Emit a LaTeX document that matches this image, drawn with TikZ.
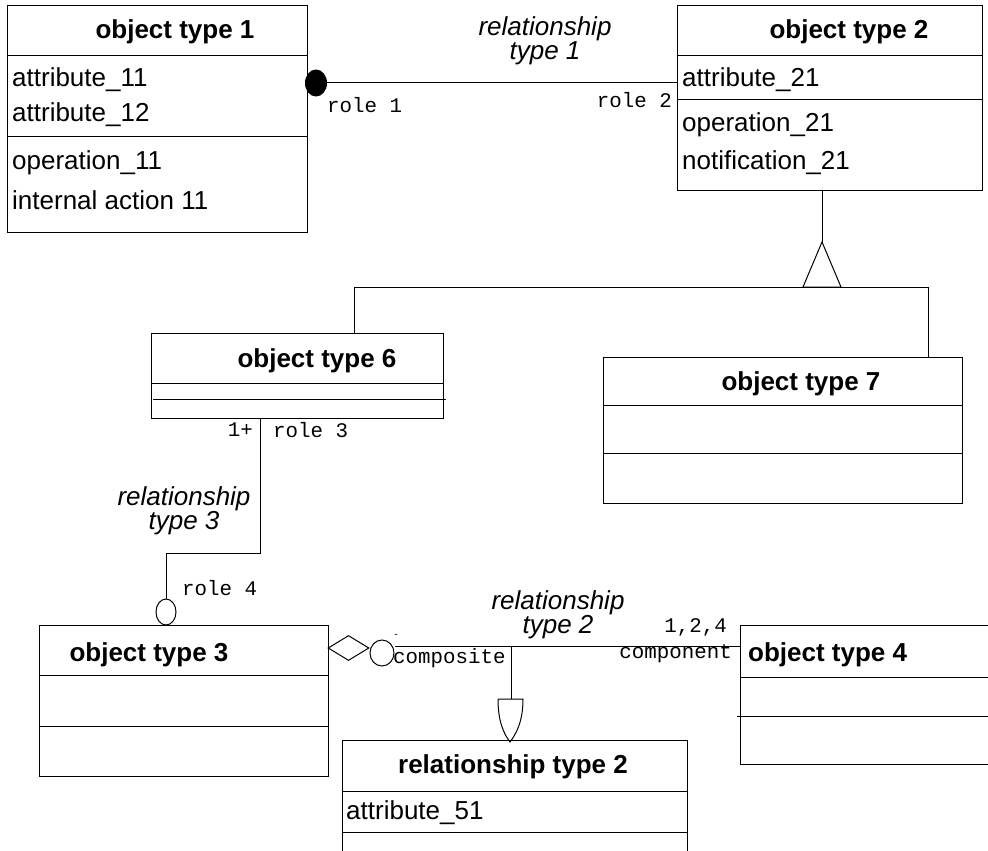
\documentclass[tikz,border=0pt]{standalone}
\usepackage{fontspec}
\setmainfont{Liberation Sans}
\newfontfamily\monof{Liberation Mono}
\usetikzlibrary{shapes.geometric}
\tikzset{
  box/.style={draw, line width=1pt, inner sep=0pt, anchor=north west},
  divider/.style={line width=1pt},
  conn/.style={line width=1pt},
  title/.style={font=\fontsize{26}{26}\selectfont\bfseries, inner sep=0pt, yshift=-2pt},
  attr/.style={font=\fontsize{26}{26}\selectfont, anchor=west, inner sep=0pt, yshift=-3pt},
  rolelab/.style={font=\monof\fontsize{20.8}{20.8}\selectfont, inner sep=0pt},
  rellab/.style={font=\fontsize{26}{24}\selectfont\itshape, align=center, inner sep=0pt, yshift=-1pt},
  endoval/.style={ellipse, draw, line width=1pt, inner sep=0pt, fill=white}
}
\begin{document}
\begin{tikzpicture}[x=1pt,y=-1pt]
\clip (0,0) rectangle (988,851);
\fill[white] (0,0) rectangle (988,851);

% ---- object type 1
\node[box, minimum width=300pt, minimum height=227pt] (ot1) at (7,5) {};
\draw[divider] (7,56) -- (307,56);
\draw[divider] (7,136) -- (307,136);
\node[title] (ot1t) at (175,30) {object type 1};
\node[attr] (a11) at (12,77) {attribute\_11};
\node[attr] (a12) at (12,112) {attribute\_12};
\node[attr] (o11) at (12,160) {operation\_11};
\node[attr] (i11) at (12,197) {internal action 11};

% ---- object type 2
\node[box, minimum width=305pt, minimum height=185pt] (ot2) at (677,5) {};
\draw[divider] (677,56) -- (982,56);
\draw[divider] (677,99) -- (982,99);
\node[title] (ot2t) at (849,30) {object type 2};
\node[attr] (a21) at (682,77) {attribute\_21};
\node[attr] (o21) at (682,122) {operation\_21};
\node[attr] (n21) at (682,160) {notification\_21};

% ---- relationship type 1
\node[ellipse, fill=black, inner sep=0pt, minimum width=22pt, minimum height=27pt] (r1dot) at (316,83) {};
\draw[conn] (r1dot.east) -- (ot2.west |- r1dot.east);
\node[rellab] (r1lab) at (545,40) {relationship\\type 1};
\node[rolelab, anchor=west] (role1) at (327,105) {role 1};
\node[rolelab, anchor=east] (role2) at (672,100) {role 2};

% ---- generalisation of object type 2
\coordinate (apex) at (822,242);
\coordinate (genl) at (354,287);
\coordinate (genr) at (928,287);
\draw[conn] (apex |- ot2.south) -- (apex);
\draw[conn] (apex) -- (803,287) -- (841,287) -- cycle;
\draw[conn] (genl) -- (genr);

% ---- object type 6
\node[box, minimum width=292pt, minimum height=85pt] (ot6) at (151,333) {};
\draw[divider] (151,383) -- (443,383);
\draw[divider] (153,399) -- (446,399);
\node[title] (ot6t) at (317,359) {object type 6};
\draw[conn] (genl) -- (genl |- ot6.north);

% ---- object type 7
\node[box, minimum width=359pt, minimum height=146pt] (ot7) at (603,357) {};
\draw[divider] (603,405) -- (962,405);
\draw[divider] (603,453) -- (962,453);
\node[title] (ot7t) at (801,382) {object type 7};
\draw[conn] (genr) -- (genr |- ot7.north);

% ---- object type 3
\node[box, minimum width=289pt, minimum height=151pt] (ot3) at (39,625) {};
\draw[divider] (39,675) -- (328,675);
\draw[divider] (39,726) -- (328,726);
\node[title] (ot3t) at (149,653) {object type 3};

% ---- relationship type 3
\node[endoval, minimum width=20pt, minimum height=26pt] (r3oval) at (166,612) {};
\coordinate (r3top) at (260,418);
\coordinate (r3bend) at (260,553);
\draw[conn] (r3top) -- (r3bend) -- (r3oval.north |- r3bend) -- (r3oval.north);
\node[rolelab, anchor=east] (mult3) at (253,430) {1+};
\node[rolelab, anchor=west] (role3) at (273,430) {role 3};
\node[rolelab, anchor=west] (role4) at (182,588) {role 4};
\node[rellab] (r3lab) at (184,510) {relationship\\type 3};

% ---- object type 4 (runs past the right edge)
\node[box, minimum width=270pt, minimum height=139pt] (ot4) at (740,625) {};
\draw[divider] (740,677) -- (1010,677);
\draw[divider] (737,716) -- (1010,716);
\node[title, anchor=west] (ot4t) at (748,653) {object type 4};

% ---- relationship type 2 (aggregation)
\node[diamond, draw, line width=1pt, inner sep=0pt, minimum width=41pt, minimum height=25pt] (agg) at (348.5,648) {};
\node[endoval, minimum width=24pt, minimum height=26pt] (r2oval) at (382,653) {};
\coordinate (r2start) at (395,646);
\draw[conn] (r2start) -- (ot4.west |- r2start);
\node[rolelab, font=\monof\fontsize{10}{10}\selectfont] (r2tick) at (396,636) {-};
\node[rolelab, anchor=west] (compo) at (393,658) {composite};
\node[rolelab, anchor=east] (compn) at (732,654) {component};
\node[rolelab, anchor=east] (mult2) at (727,627) {1,2,4};
\node[rellab] (r2lab) at (558,614) {relationship\\type 2};

% ---- relationship type 2 as an object
\node[box, minimum width=345pt, minimum height=140pt] (rt2) at (342,740) {};
\draw[divider] (342,791) -- (687,791);
\draw[divider] (342,832) -- (687,832);
\node[title] (rt2t) at (513,765) {relationship type 2};
\node[attr] (a51) at (346,810) {attribute\_51};

% link from the relationship line to its object
\coordinate (lnk) at (511,646);
\coordinate (cupl) at (498,699);
\coordinate (cupr) at (523,699);
\coordinate (cupt) at (510,742);
\draw[conn] (lnk) -- (lnk |- cupl);
\draw[conn] (cupl) -- (cupr)
  .. controls (523,722) and (516,734) .. (cupt)
  .. controls (504,734) and (498,722) .. (cupl);
\end{tikzpicture}
\end{document}
